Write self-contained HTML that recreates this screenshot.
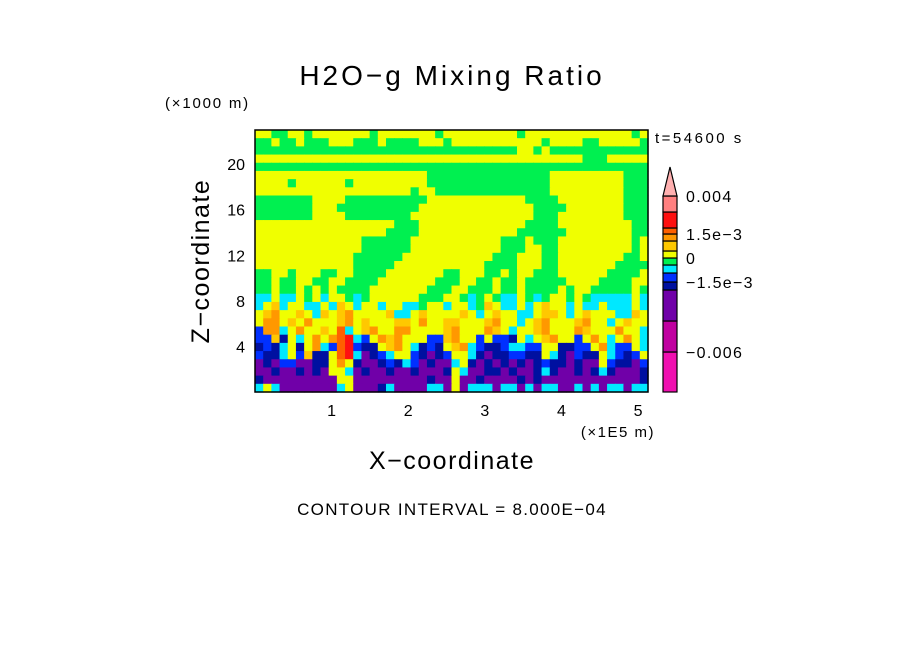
<!DOCTYPE html>
<html><head><meta charset="utf-8"><style>
body{margin:0;background:#fff;}
svg text{font-family:"Liberation Sans",sans-serif;fill:#000;}
</style></head><body>
<svg id="chart" width="904" height="654" viewBox="0 0 904 654">
<rect width="904" height="654" fill="#fff"/>
<text x="452" y="85" font-size="28" text-anchor="middle" letter-spacing="3">H2O−g Mixing Ratio</text>
<text x="165" y="108" font-size="15" letter-spacing="1.8">(×1000 m)</text>
<text x="655" y="143" font-size="15" letter-spacing="2.5">t=54600 s</text>
<g id="field"></g>
<rect x="255" y="130" width="393" height="262" fill="none" stroke="#000" stroke-width="1.5"/>
<g id="yticks"></g>
<g id="xticks"></g>
<text x="655" y="437" font-size="15" text-anchor="end" letter-spacing="1.5">(×1E5 m)</text>
<text x="452" y="469" font-size="25" text-anchor="middle" letter-spacing="1.5">X−coordinate</text>
<text transform="translate(209,261) rotate(-90)" font-size="25" text-anchor="middle" letter-spacing="1.5">Z−coordinate</text>
<text x="452" y="515" font-size="17" text-anchor="middle" letter-spacing="1.3">CONTOUR INTERVAL = 8.000E−04</text>
<g id="cbar"></g>
</svg>
<script>
const levelColors={a:"#f010b0",b:"#c000a0",c:"#7000a8",d:"#0010a0",e:"#0030ff",f:"#00e8ff",g:"#00f050",h:"#f0ff00",i:"#ffc800",j:"#ff9800",k:"#ff6000",l:"#ff1010",m:"#ff8080"};
const fieldRows=[
"hhgghhghhhhhhhghhhhhhhghhhhhhhhhghhhhhhhhhhhhhgh",
"gghgghggghhhggghgggghhhghhhhhhhhhhhghhhhgghhhhhg",
"gggggggggggggggggggggggggggggggghhghgggggggggggg",
"hhhhhhhhhhhhhhhhhhhhhhhhhhhhhhhhhhhhhhhhggghhhhh",
"gggggggggggggggggggggggggggggggggggggggggggggggg",
"hhhhhhhhhhhhhhhhhhhhhggggggggggggggghhhhhhhhhggg",
"hhhhghhhhhhghhhhhhhhhggggggggggggggghhhhhhhhhggg",
"hhhhhhhhhhhhhhhhhhhghhgggggggggggggghhhhhhhhhggg",
"ggggggghhhhgggggggggghhhhhhhhhhhhgggghhhhhhhhggg",
"ggggggghhhgggggggggghhhhhhhhhhhhhhgggghhhhhhhggg",
"ggggggghhhhgggggggghhhhhhhhhhhhhhhggghhhhhhhhggg",
"hhhhhhhhhhhhhhhhhggghhhhhhhhhhhhhgggghhhhhhhhhgg",
"hhhhhhhhhhhhhhhhgggghhhhhhhhhhhhgggggghhhhhhhhgg",
"hhhhhhhhhhhhhgggggghhhhhhhhhhhggghggghhhhhhhhhgh",
"hhhhhhhhhhhhhgggggghhhhhhhhhhhggghhgghhhhhhhhhgh",
"hhhhhhhhhhhhgggggghhhhhhhhhhhggghhhgghhhhhhhhggh",
"hhhhhhhhhhhhggggghhhhhhhhhhhgggghhhgghhhhhhhgggg",
"gghhghhhgghhgggghhhhhhhgghhhgghghhggghhhhhhggggh",
"gghgghhgghhgggghhhhhhhggghhgghgghggggghhhhgggghh",
"gghgghghghgggghhhhhhhggghhggghgghgggghghhggggghg",
"ffhffhghfhhgfghhhhhhggghhgfghgffhgfghhghgfffffhf",
"fhifhhffhfihfhhfhhffghhfhhfgihffhfhihhfhffhfffhf",
"hijhhihfihijhhhhiffhihhhhihfhihhffhiihfhihhhffih",
"hjjhihjhhhijhihhhiihjhhiihhhijhhfhijhhhijhhfhihh",
"ejjfhjhhihkfhijhhjjhhhhijhhhjihfhhijhhhjihhhjhhf",
"eeidhfhjhjklfehjijhhheeijhheheedhfhijhhehjhfhjhf",
"dedfhdhjfekleddhijhfdedhijfeddeffeehhddeehjfeehf",
"eddfheiddhklfcdefhhedcdehhfdcddeeddhfdceddhfedeh",
"cdceeccddhjhdccdedfecdccfhdcdcdcdcdeddcdccheddce",
"ccdccdcdchhfcdccdccdcccdhfccddcdccdfdccdcdfdcccd",
"dccccccccchhcccccccccdcchccdccccdcdccccccccccccd",
"fhfcccccccfhcccdfccccffchcfffcffcfcffccfcfcffcff"
];
const yTicks=[4,8,12,16,20];
const xTicks=[1,2,3,4,5];
const cbarLevels=["a","b","c","d","e","f","g","h","i","j","k","l","m"];
const cbarHeights=[40,31,31,8,9,8,7,7,10,7,6,16,16];
const cbarLabels=["−0.006","−1.5e−3","0","1.5e−3","0.004"];
const cbarLabelPos=[1,4,7,10,13];

const NS="http://www.w3.org/2000/svg";
const X0=255,X1=648,Y0=392,Y1=130,XMAX=5.13,ZMAX=23;
const xs=v=>X0+v/XMAX*(X1-X0);
const ys=v=>Y0-v/ZMAX*(Y0-Y1);
function mk(tag,attrs,parent){const e=document.createElementNS(NS,tag);for(const k in attrs)e.setAttribute(k,attrs[k]);parent.appendChild(e);return e;}

const field=document.getElementById("field");
const nr=fieldRows.length,nc=fieldRows[0].length;
const cw=(X1-X0)/nc,ch=(Y0-Y1)/nr;
fieldRows.forEach((row,r)=>{
  for(let c=0;c<nc;c++){
    const cell=mk("rect",{x:(X0+c*cw).toFixed(2),y:(Y1+r*ch).toFixed(2),width:(cw+0.6).toFixed(2),height:(ch+0.6).toFixed(2),fill:levelColors[row[c]]},field);
    
    
  }
});

const yg=document.getElementById("yticks");
yTicks.forEach(v=>{
  const t=mk("text",{x:245,y:ys(v)+6,"font-size":16,"text-anchor":"end"},yg);t.textContent=v;
  
  
});
const xg=document.getElementById("xticks");
xTicks.forEach(v=>{
  const t=mk("text",{x:xs(v),y:416,"font-size":16,"text-anchor":"middle"},xg);t.textContent=v;
  
  
});

const cb=document.getElementById("cbar");
const CX=663,CW=14,CB=392;
let y=CB;const bounds=[CB];
cbarLevels.forEach((k,i)=>{
  const h=cbarHeights[i];y-=h;bounds.push(y);
  const s=mk("rect",{x:CX,y:y,width:CW,height:h,fill:levelColors[k],stroke:"#000","stroke-width":1.2},cb);
  
  
});
const tip=mk("polygon",{points:`${CX},${y} ${CX+CW},${y} ${CX+CW/2},${y-29}`,fill:"#ffb0b0",stroke:"#000","stroke-width":1.2},cb);


cbarLabels.forEach((lab,i)=>{
  const yy=bounds[cbarLabelPos[i]];
  const t=mk("text",{x:686,y:yy+6,"font-size":16,"letter-spacing":1.3},cb);t.textContent=lab;
  
  
});
</script>
</body></html>
